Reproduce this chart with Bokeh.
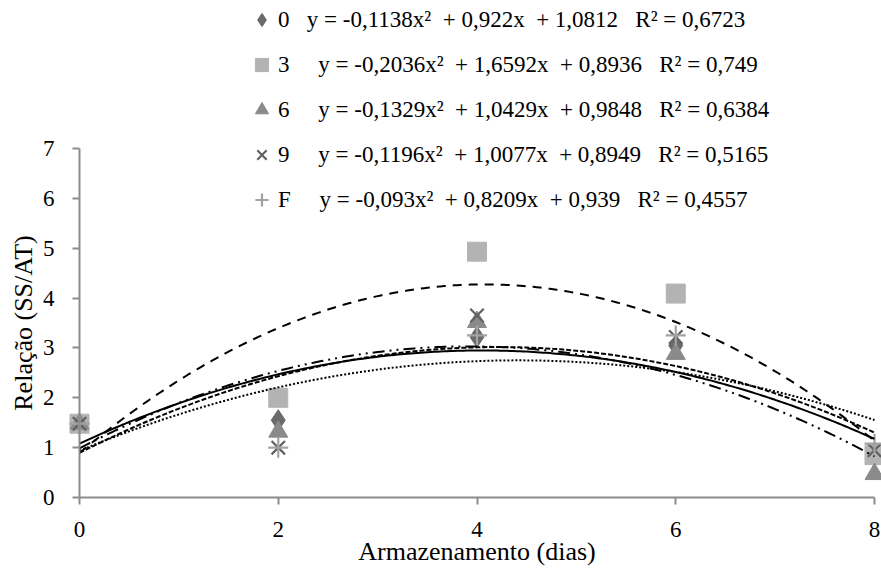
import numpy as np
from bokeh.plotting import figure
from bokeh.models import Range1d, FixedTicker, Legend, LegendItem, ColumnDataSource
from bokeh.embed import file_html
from bokeh.resources import INLINE

# ---------------- data ----------------
dias = [0, 2, 4, 6, 8]
series_names = ["0", "3", "6", "9", "F"]
s0 = [1.48, 1.55, 3.22, 3.05, 0.90]
s3 = [1.48, 2.00, 4.93, 4.09, 0.85]
s6 = [1.48, 1.32, 3.52, 2.88, 0.47]
s9 = [1.48, 1.00, 3.65, 3.22, 0.95]
sF = [1.48, 1.00, 3.25, 3.25, 1.08]

# trendline coefficients (a x^2 + b x + c), as printed on the chart
coef0 = [-0.1138, 0.922, 1.0812]
coef3 = [-0.2036, 1.6592, 0.8936]
coef6 = [-0.1329, 1.0429, 0.9848]
coef9 = [-0.1196, 1.0077, 0.8949]
coefF = [-0.093, 0.8209, 0.939]

equations = [
    "y = -0,1138x²  + 0,922x  + 1,0812   R² = 0,6723",
    "y = -0,2036x²  + 1,6592x  + 0,8936   R² = 0,749",
    "y = -0,1329x²  + 1,0429x  + 0,9848   R² = 0,6384",
    "y = -0,1196x²  + 1,0077x  + 0,8949   R² = 0,5165",
    "y = -0,093x²  + 0,8209x  + 0,939   R² = 0,4557",
]
x_ticks = [0, 2, 4, 6, 8]
y_ticks = [0, 1, 2, 3, 4, 5, 6, 7]
x_title = "Armazenamento (dias)"
y_title = "Relação (SS/AT)"

# ---------------- styles ----------------
FONT = "Liberation Serif"
markers = ["diamond", "square", "triangle", "x", "cross"]
colors = ["#6a6a6a", "#b3b3b3", "#8a8a8a", "#616161", "#a3a3a3"]
sizes = [21, 19, 19, 19, 20]
dashes = ["solid", "9 7", "12 5 2 5 2 5", "5 2", "2 2"]
NB = "\u00a0"
lead = [NB * 3, NB * 5, NB * 5, NB * 5, NB * 5]

p = figure(width=881, height=574,
           x_range=Range1d(-0.795, 8.0704), y_range=Range1d(-1.5444, 9.968),
           output_backend="svg", toolbar_location=None,
           min_border_left=0, min_border_right=0,
           min_border_top=0, min_border_bottom=0)
p.outline_line_color = None
p.grid.visible = False
p.background_fill_color = "white"

all_series = [s0, s3, s6, s9, sF]
all_coefs = [coef0, coef3, coef6, coef9, coefF]

xs_fit = np.linspace(0, 8, 241)
scatter_renderers = []
for i, ys in enumerate(all_series):
    src = ColumnDataSource(dict(x=dias, y=ys))
    lw = 2.2 if markers[i] in ("x", "cross") else 1
    r = p.scatter("x", "y", source=src, marker=markers[i], size=sizes[i],
                  fill_color=colors[i], line_color=colors[i], line_width=lw)
    scatter_renderers.append(r)

for i, c in enumerate(all_coefs):
    yfit = np.polyval(c, xs_fit)
    p.line(xs_fit, yfit, line_color="black", line_width=2, line_dash=dashes[i])

# axes
axis_col = "#8c8c8c"
for ax in (p.xaxis[0], p.yaxis[0]):
    ax.axis_line_color = axis_col
    ax.axis_line_width = 2
    ax.major_tick_line_color = axis_col
    ax.major_tick_line_width = 2
    ax.major_tick_out = 7
    ax.major_tick_in = 0
    ax.minor_tick_line_color = None
    ax.major_label_text_font = FONT
    ax.major_label_text_font_size = "23px"
    ax.major_label_text_color = "black"
    ax.axis_label_text_font = FONT
    ax.axis_label_text_font_size = "26px"
    ax.axis_label_text_font_style = "normal"
    ax.axis_label_text_color = "black"

p.xaxis.ticker = FixedTicker(ticks=x_ticks)
p.yaxis.ticker = FixedTicker(ticks=y_ticks)
p.xaxis.bounds = (0, 8)
p.yaxis.bounds = (0, 7)
p.yaxis.fixed_location = 0
p.xaxis.fixed_location = 0
p.xaxis.major_label_standoff = 18
p.yaxis.major_label_standoff = 18
p.xaxis.axis_label = x_title
p.yaxis.axis_label = y_title
p.xaxis.axis_label_standoff = -4
p.yaxis.axis_label_standoff = 2

items = [LegendItem(label=series_names[i] + lead[i] + equations[i],
                    renderers=[scatter_renderers[i]]) for i in range(5)]
legend = Legend(items=items, location=(245, 358), orientation="vertical",
                glyph_width=33, glyph_height=33, label_height=33,
                label_standoff=0, spacing=12, padding=0, margin=0,
                border_line_color=None, background_fill_alpha=0,
                label_text_font=FONT, label_text_font_size="23px",
                label_text_color="black")
p.add_layout(legend, "center")

open("out.html", "w").write(file_html(p, INLINE))
